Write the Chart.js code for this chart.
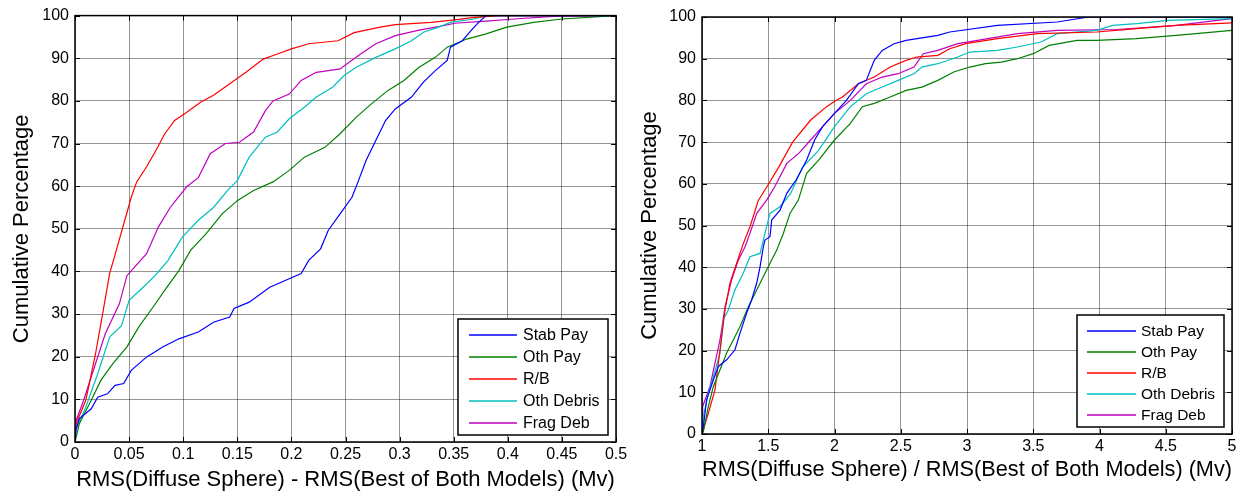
<!DOCTYPE html>
<html>
<head>
<meta charset="utf-8">
<script src="https://cdn.jsdelivr.net/npm/chart.js@4"></script>
<style>
  html, body { margin: 0; padding: 0; background: #fff; }
  #wrap { position: relative; width: 1240px; height: 493px; overflow: hidden; }
  #left { position: absolute; left: 0; top: 0; }
  #right { position: absolute; left: 620px; top: 0; }
</style>
</head>
<body>
<div id="wrap">
  <canvas id="left" width="640" height="493"></canvas>
  <canvas id="right" width="620" height="493"></canvas>
</div>
<script>
const seriesNames = ['Stab Pay', 'Oth Pay', 'R/B', 'Oth Debris', 'Frag Deb'];
const seriesColors = ['#0000ff', '#008000', '#ff0000', '#00bfbf', '#bf00bf'];

const yTicks = [0, 10, 20, 30, 40, 50, 60, 70, 80, 90, 100];
const diffTicks = [0, 0.05, 0.1, 0.15, 0.2, 0.25, 0.3, 0.35, 0.4, 0.45, 0.5];
const ratioTicks = [1, 1.5, 2, 2.5, 3, 3.5, 4, 4.5, 5];

// left: RMS difference  [x, cumulative %]
const diffStabPay = [[0,0],[0.001,3],[0.004,5.5],[0.015,7.8],[0.021,10.5],[0.030,11.3],[0.037,13.3],[0.045,13.7],[0.052,16.8],[0.066,19.9],[0.081,22.3],[0.096,24.2],[0.114,25.8],[0.128,28.1],[0.143,29.3],[0.147,31.3],[0.161,32.8],[0.180,36.3],[0.198,38.3],[0.209,39.5],[0.216,42.6],[0.227,45.3],[0.234,49.6],[0.245,53.5],[0.256,57.4],[0.262,61.3],[0.269,66],[0.278,70.7],[0.287,75.4],[0.296,78.1],[0.311,80.9],[0.322,84.4],[0.333,87.1],[0.344,89.5],[0.347,92.6],[0.358,94.1],[0.366,96.5],[0.373,98.4],[0.380,100],[0.5,100]];
const diffOthPay = [[0,0],[0.004,4.3],[0.015,9.8],[0.024,14.5],[0.035,18.4],[0.048,22.3],[0.059,27],[0.072,31.6],[0.085,36.3],[0.096,40.2],[0.107,45],[0.121,48.8],[0.136,53.5],[0.150,56.6],[0.165,59],[0.183,61],[0.198,63.7],[0.212,66.8],[0.231,69.1],[0.245,72.3],[0.260,76.2],[0.274,79.3],[0.289,82.4],[0.304,84.8],[0.318,87.9],[0.333,90.2],[0.344,92.6],[0.362,94.5],[0.380,95.7],[0.399,97.3],[0.424,98.4],[0.450,99.2],[0.5,100]];
const diffRB = [[0,2],[0.001,4.3],[0.01,9.8],[0.019,20.7],[0.0255,30],[0.032,39.5],[0.039,45.7],[0.046,52],[0.052,57.4],[0.057,61],[0.066,64.5],[0.074,68],[0.083,72.3],[0.092,75.4],[0.103,77.3],[0.116,79.7],[0.128,81.3],[0.143,84],[0.158,86.7],[0.174,89.8],[0.187,91],[0.2,92.2],[0.216,93.4],[0.243,94.1],[0.258,96],[0.282,97.3],[0.296,97.9],[0.329,98.4],[0.351,99],[0.369,99.6],[0.391,100],[0.5,100]];
const diffOthDebris = [[0,0],[0.001,3],[0.01,8.2],[0.021,16],[0.032,24.6],[0.043,27.3],[0.05,33.2],[0.063,36.3],[0.074,39],[0.086,42.6],[0.099,48],[0.114,52],[0.128,55],[0.141,59],[0.150,61.3],[0.161,66.8],[0.176,71.5],[0.187,72.7],[0.198,75.8],[0.212,78.5],[0.223,80.9],[0.238,83.2],[0.249,86],[0.260,87.9],[0.278,90.2],[0.296,92.2],[0.311,94.1],[0.322,96.1],[0.336,97.3],[0.347,98.4],[0.369,99.2],[0.380,100],[0.5,100]];
const diffFragDeb = [[0,0],[0.001,5],[0.008,9.8],[0.019,18.4],[0.028,25.4],[0.041,32.4],[0.048,39],[0.055,41],[0.066,44.1],[0.077,50.4],[0.088,55],[0.103,59.8],[0.114,62],[0.125,67.6],[0.139,70],[0.152,70.3],[0.165,72.7],[0.176,77.7],[0.183,80],[0.198,81.6],[0.209,84.8],[0.223,86.7],[0.245,87.5],[0.253,89],[0.264,91],[0.278,93.4],[0.296,95.3],[0.318,96.6],[0.336,97.4],[0.351,98.2],[0.380,98.7],[0.406,99.2],[0.442,99.8],[0.5,100]];

// right: RMS ratio  [x, cumulative %]
const ratioStabPay = [[1,0],[1.01,1.8],[1.035,8.2],[1.086,13],[1.123,16.2],[1.186,17.8],[1.249,20.2],[1.287,24.2],[1.337,29],[1.375,32.2],[1.413,36.2],[1.438,40.1],[1.463,44.9],[1.475,46.5],[1.513,47.3],[1.526,51.3],[1.589,53.7],[1.64,57.7],[1.71,60.9],[1.79,65.7],[1.85,70.5],[1.91,73.7],[2.0,76.9],[2.09,80],[2.18,84],[2.24,84.8],[2.30,89.6],[2.36,92],[2.45,93.6],[2.54,94.4],[2.78,95.6],[2.87,96.4],[3.23,98],[3.68,98.8],[3.92,100],[5,100]];
const ratioOthPay = [[1,0],[1.01,0.6],[1.048,6.6],[1.086,11.4],[1.136,15.4],[1.186,19.4],[1.237,22.6],[1.287,25.8],[1.35,30.5],[1.425,35.3],[1.5,40.1],[1.564,44.1],[1.614,48.1],[1.664,52.9],[1.727,56.1],[1.79,62.5],[1.88,65.7],[2.0,70.5],[2.12,74.5],[2.21,78.5],[2.30,79.3],[2.42,80.8],[2.54,82.4],[2.66,83.2],[2.78,84.8],[2.90,86.8],[3.02,88],[3.14,88.8],[3.26,89.2],[3.38,90],[3.50,91.2],[3.62,93.2],[3.83,94.4],[3.98,94.4],[4.28,94.8],[4.58,95.6],[5,96.8]];
const ratioRB = [[1,0],[1.01,1],[1.048,5],[1.098,10.6],[1.136,20.2],[1.174,29.8],[1.211,36.2],[1.262,41],[1.312,45.7],[1.362,49.7],[1.425,56],[1.504,60],[1.579,64],[1.684,70],[1.82,75.3],[1.94,78.5],[2.01,80],[2.06,80.8],[2.18,84],[2.30,85.6],[2.42,88],[2.54,89.6],[2.62,90.4],[2.78,90.8],[2.87,92.4],[2.99,93.6],[3.23,94.8],[3.53,96],[3.98,96.4],[4.28,97.2],[4.58,98],[5,98.6]];
const ratioOthDebris = [[1,0],[1.01,4.2],[1.048,9.8],[1.086,13.8],[1.136,19.4],[1.161,27.4],[1.199,29.8],[1.249,34.6],[1.312,38.6],[1.362,42.5],[1.438,43.3],[1.475,48.1],[1.513,52.9],[1.589,54.5],[1.669,57.7],[1.76,64],[1.88,68],[2.0,73.7],[2.12,78.5],[2.24,81.6],[2.36,83.2],[2.48,84.8],[2.6,86.4],[2.66,88],[2.78,88.8],[2.93,90.4],[3.02,91.6],[3.23,92],[3.38,92.8],[3.56,94],[3.68,96],[3.98,96.8],[4.10,98],[4.28,98.4],[4.52,99.2],[5,99.6]];
const ratioFragDeb = [[1,0],[1.005,6.6],[1.06,11.4],[1.098,17],[1.136,22.6],[1.174,30.5],[1.224,37],[1.274,41.7],[1.325,44.9],[1.362,48.1],[1.413,52.9],[1.488,56.1],[1.549,59.3],[1.64,64.9],[1.73,67.3],[1.82,70.5],[1.91,73.7],[2.0,76.9],[2.12,80],[2.24,84],[2.36,85.6],[2.48,86.4],[2.6,88],[2.67,91.2],[2.78,92],[2.93,93.6],[3.08,94.4],[3.38,96],[3.68,96.8],[4.13,97],[4.58,98],[5,99.6]];

const FONT = '"Liberation Sans", Arial, sans-serif';

// matlab style box, inward ticks and legend inside the axes
const boxPlugin = {
  id: 'box',
  afterDraw(chart, args, opts) {
    const { ctx, chartArea: a, scales } = chart;
    ctx.save();
    ctx.strokeStyle = '#000';
    ctx.lineWidth = 1;
    ctx.beginPath();
    scales.x.ticks.forEach(t => {
      const px = Math.round(scales.x.getPixelForValue(t.value)) + 0.5;
      ctx.moveTo(px, a.bottom); ctx.lineTo(px, a.bottom - 5);
      ctx.moveTo(px, a.top); ctx.lineTo(px, a.top + 5);
    });
    scales.y.ticks.forEach(t => {
      const py = Math.round(scales.y.getPixelForValue(t.value)) + 0.5;
      ctx.moveTo(a.left, py); ctx.lineTo(a.left + 5, py);
      ctx.moveTo(a.right, py); ctx.lineTo(a.right - 5, py);
    });
    ctx.stroke();

    // legend
    const lg = opts.legend;
    const bx = a.right - lg.right - lg.width;
    const by = a.bottom - lg.bottom - lg.height;
    ctx.fillStyle = '#fff';
    ctx.fillRect(bx, by, lg.width, lg.height);
    ctx.lineWidth = 1.5;
    ctx.strokeRect(bx, by, lg.width, lg.height);
    ctx.font = lg.fontSize + 'px ' + FONT;
    ctx.textBaseline = 'middle';
    ctx.textAlign = 'left';
    chart.data.datasets.forEach((ds, i) => {
      const ry = by + lg.first + i * lg.row;
      ctx.strokeStyle = ds.borderColor;
      ctx.lineWidth = 1.5;
      ctx.beginPath();
      ctx.moveTo(bx + lg.lineFrom, ry);
      ctx.lineTo(bx + lg.lineTo, ry);
      ctx.stroke();
      ctx.fillStyle = '#000';
      ctx.fillText(ds.label, bx + lg.textX, ry + 1);
    });

    ctx.strokeStyle = '#000';
    ctx.lineWidth = 1.5;
    ctx.strokeRect(a.left, a.top, a.width, a.height);
    ctx.restore();
  }
};

function makeChart(id, series, xTicks, cfg) {
  const datasets = series.map((pts, i) => ({
    label: seriesNames[i],
    data: pts.map(p => ({ x: p[0], y: p[1] })),
    borderColor: seriesColors[i],
    borderWidth: 1.2,
    pointRadius: 0,
    tension: 0,
    fill: false
  }));
  return new Chart(document.getElementById(id), {
    type: 'line',
    data: { datasets },
    plugins: [boxPlugin],
    options: {
      responsive: false,
      animation: false,
      layout: { padding: { left: 0, top: cfg.top, right: cfg.right, bottom: 0 } },
      plugins: {
        legend: { display: false },
        tooltip: { enabled: false },
        box: { legend: cfg.legend }
      },
      scales: {
        x: {
          type: 'linear',
          min: xTicks[0],
          max: xTicks[xTicks.length - 1],
          afterBuildTicks: s => { s.ticks = xTicks.map(v => ({ value: v })); },
          afterFit: s => { s.height = cfg.xHeight; },
          grid: { color: 'rgba(0,0,0,0.42)', lineWidth: 1, drawTicks: false },
          border: { display: false },
          ticks: {
            padding: 3,
            color: '#000',
            font: { family: FONT, size: 16 },
            maxRotation: 0,
            callback: v => String(+v.toFixed(2))
          },
          title: {
            display: true,
            text: cfg.xTitle,
            color: '#000',
            font: { family: FONT, size: 22 },
            padding: { top: 0, bottom: cfg.xTitlePad }
          }
        },
        y: {
          min: 0,
          max: 100,
          afterBuildTicks: s => { s.ticks = yTicks.map(v => ({ value: v })); },
          afterFit: s => { s.width = cfg.yWidth; },
          grid: { color: 'rgba(0,0,0,0.42)', lineWidth: 1, drawTicks: false },
          border: { display: false },
          ticks: {
            padding: 6,
            color: '#000',
            font: { family: FONT, size: 16 }
          },
          title: {
            display: true,
            text: 'Cumulative Percentage',
            color: '#000',
            font: { family: FONT, size: 22 },
            padding: { top: cfg.yTitlePad, bottom: 0 }
          }
        }
      }
    }
  });
}

makeChart('left',
  [diffStabPay, diffOthPay, diffRB, diffOthDebris, diffFragDeb],
  diffTicks,
  {
    top: 15, right: 24, xHeight: 51, yWidth: 75,
    xTitle: 'RMS(Diffuse Sphere) - RMS(Best of Both Models) (Mv)',
    xTitlePad: 0, yTitlePad: 9,
    legend: { right: 8, bottom: 7, width: 150, height: 116, first: 16, row: 22, lineFrom: 11, lineTo: 59, textX: 65, fontSize: 16 }
  });

makeChart('right',
  [ratioStabPay, ratioOthPay, ratioRB, ratioOthDebris, ratioFragDeb],
  ratioTicks,
  {
    top: 17, right: 8, xHeight: 59, yWidth: 82,
    xTitle: 'RMS(Diffuse Sphere) / RMS(Best of Both Models) (Mv)',
    xTitlePad: 10, yTitlePad: 17,
    legend: { right: 8, bottom: 7, width: 147, height: 112, first: 16, row: 21, lineFrom: 10, lineTo: 59, textX: 64, fontSize: 15.5 }
  });
</script>
</body>
</html>
